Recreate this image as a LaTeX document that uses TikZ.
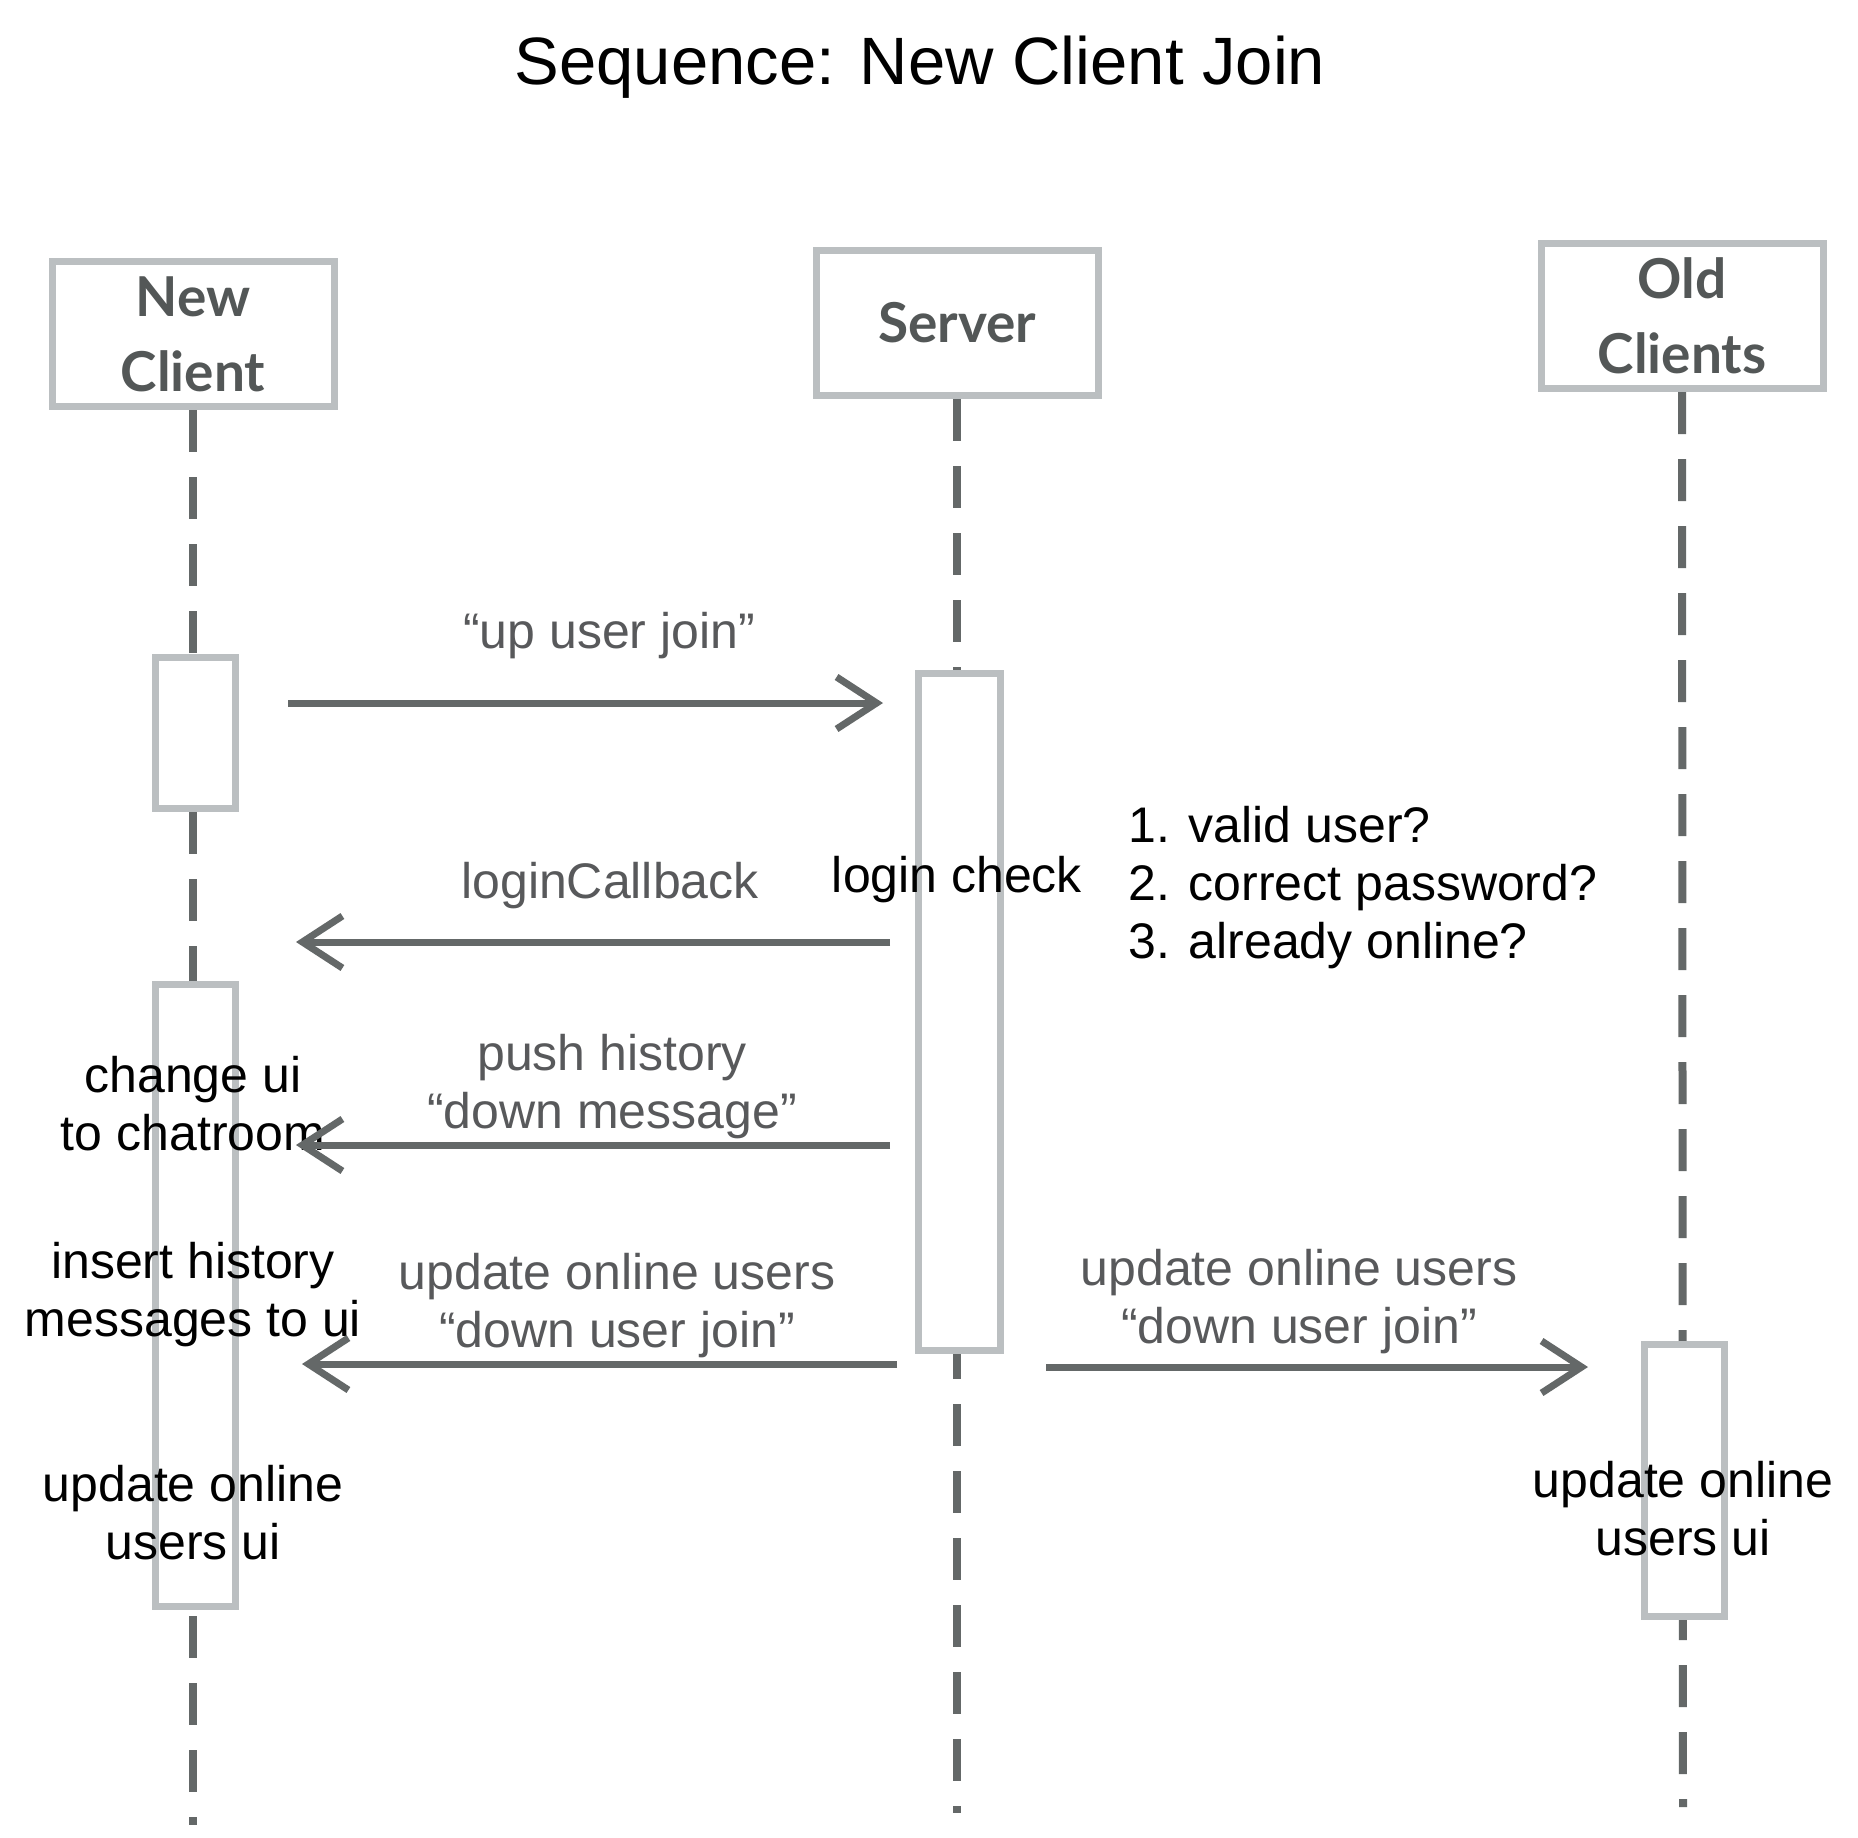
\documentclass[tikz,border=0pt]{standalone}
\usepackage{fontspec}
\setmainfont{Liberation Sans}
\newfontfamily\boxfont{Lato Bold}
\usepackage{tikz}
\usetikzlibrary{arrows.meta}
\definecolor{LineGray}{HTML}{646868}
\definecolor{FrameGray}{HTML}{BBBFC1}
\definecolor{BoxText}{HTML}{535757}
\definecolor{MsgText}{HTML}{58595B}

\begin{document}
\begin{tikzpicture}[x=1pt,y=-1pt,
    party/.style={draw=FrameGray,line width=7pt,fill=white,minimum width=282pt,minimum height=145pt,
      align=center,text=BoxText,font=\boxfont\fontsize{55}{75}\selectfont},
    actbox/.style={draw=FrameGray,line width=7pt,fill=white,minimum width=80pt,inner sep=0pt},
    lifeline/.style={draw=LineGray,line width=8pt,dash pattern=on 42pt off 25pt},
    msg/.style={draw=LineGray,line width=7pt,-{Straight Barb[length=40pt,width=52pt,line width=7pt]}},
    msglabel/.style={text=MsgText,align=center,font=\fontsize{50}{58}\selectfont},
    note/.style={align=center,font=\fontsize{50}{58}\selectfont}]
    \useasboundingbox[fill=white] (0,0) rectangle (1858,1837);

    \node[font=\fontsize{67}{80}\selectfont] (title) at (920,67) {Sequence: New Client Join};

    % participants
    \node[party] (nc) at (193,334) {New\\Client};
    \node[party] (srv) at (957,323) {Server};
    \node[party] (oc) at (1682,316) {Old\\Clients};

    % lifelines
    \coordinate (ncend) at (193,1825);
    \coordinate (srvend) at (957,1813);
    \coordinate (ocend) at (1683,1807);
    \draw[lifeline] (nc.south) -- (ncend);
    \draw[lifeline] (srv.south) -- (srvend);
    \draw[lifeline] (oc.south) -- (ocend);

    % activations
    \node[actbox,minimum height=151pt] (act1) at (195,733) {};
    \node[actbox,minimum height=622pt] (act2) at (195,1295) {};
    \node[actbox,minimum width=82pt,minimum height=677pt] (act3) at (959,1012) {};
    \node[actbox,minimum height=272pt] (act4) at (1684,1480) {};

    % messages
    \coordinate (m1a) at (288,703);  \coordinate (m1b) at (883,703);
    \coordinate (m2a) at (890,942);  \coordinate (m2b) at (296,942);
    \coordinate (m3a) at (890,1145); \coordinate (m3b) at (296,1145);
    \coordinate (m4a) at (897,1364); \coordinate (m4b) at (302,1364);
    \coordinate (m5a) at (1046,1367); \coordinate (m5b) at (1588,1367);

    \node[msglabel] (l1) at (609,636) {``up user join''};
    \node[msglabel] (l2) at (610,886) {loginCallback};
    \node[msglabel] (l3) at (612,1087) {push history\\``down message''};
    \node[msglabel] (l4) at (617,1306) {update online users\\``down user join''};
    \node[msglabel] (l5) at (1299,1302) {update online users\\``down user join''};

    % notes
    \node[note] (chk) at (957,880) {login check};
    \node[note,align=left,anchor=west] (rules) at (1125,888) {1. valid user?\\2. correct password?\\3. already online?};
    \node[note] (n1) at (193,1104) {change ui\\to chatroom};
    \node[note] (n2) at (193,1295) {insert history\\messages to ui};
    \node[note] (n3) at (193,1513) {update online\\users ui};
    \node[note] (n4) at (1683,1509) {update online\\users ui};

    \draw[msg] (m1a) -- (m1b);
    \draw[msg] (m2a) -- (m2b);
    \draw[msg] (m3a) -- (m3b);
    \draw[msg] (m4a) -- (m4b);
    \draw[msg] (m5a) -- (m5b);
\end{tikzpicture}
\end{document}
